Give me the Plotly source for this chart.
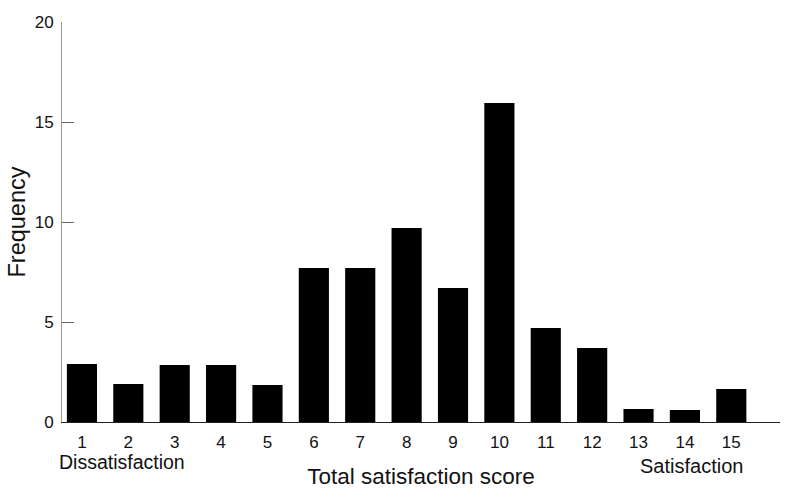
import plotly.graph_objects as go

scores = list(range(1, 16))
frequency = [2.9, 1.9, 2.85, 2.85, 1.85, 7.7, 7.7, 9.7, 6.7, 15.95, 4.7, 3.7, 0.65, 0.6, 1.65]
y_ticks = [0, 5, 10, 15, 20]

FONT = "Liberation Sans, Arial, Helvetica, sans-serif"

W, H = 787, 489
L, R, T, B = 62, 7, 22, 67
PW = W - L - R

fig = go.Figure()
fig.add_trace(go.Bar(
    x=scores, y=frequency,
    marker=dict(color="black", line=dict(width=0)),
    width=0.65,
))

fig.update_layout(
    width=W, height=H,
    margin=dict(l=L, r=R, t=T, b=B, autoexpand=False),
    paper_bgcolor="white", plot_bgcolor="white",
    showlegend=False,
    font=dict(family=FONT, color="#111", size=17),
    xaxis=dict(
        automargin=False,
        range=[0.57, 16.05], tickmode="array", tickvals=scores,
        ticktext=[str(s) for s in scores],
        showgrid=False, zeroline=False,
        showline=True, linecolor="#222", linewidth=1.3,
        ticks="", ticklabelstandoff=4,
        tickfont=dict(size=17, color="#111"),
        title=dict(text="Total satisfaction score", font=dict(size=22.5, color="#111"), standoff=28),
    ),
    yaxis=dict(
        automargin=False,
        range=[0, 20], tickmode="array", tickvals=y_ticks,
        showgrid=False, zeroline=False,
        showline=True, linecolor="#9a9a9a", linewidth=1,
        ticks="inside", ticklen=12, tickcolor="#666", tickwidth=1,
        ticklabelstandoff=4,
        tickfont=dict(size=17, color="#111"),
        title=dict(text="Frequency", font=dict(size=23.5, color="#111"), standoff=2),
    ),
    annotations=[
        dict(text="Dissatisfaction", xref="paper", yref="paper", x=(122 - 62) / PW, y=0, yshift=-40,
             showarrow=False, xanchor="center", yanchor="middle", font=dict(size=19.5, color="#111")),
        dict(text="Satisfaction", xref="paper", yref="paper", x=(691 - 62) / PW, y=0, yshift=-44,
             showarrow=False, xanchor="center", yanchor="middle", font=dict(size=20, color="#111")),
    ],
)

fig.write_html("out.html", config={"displayModeBar": False},
               post_script="document.body.style.margin='0';document.body.style.overflow='hidden';")
